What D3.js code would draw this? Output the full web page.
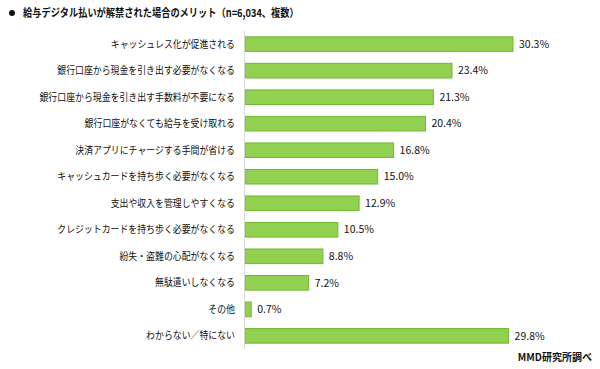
<!DOCTYPE html>
<html>
<head>
<meta charset="utf-8">
<script src="https://d3js.org/d3.v7.min.js"></script>
<style>
  body { margin: 0; background: #fff; }
  text { font-family: "Noto Sans CJK JP", sans-serif; fill: #111; }
</style>
</head>
<body>
<div id="chart"></div>
<script>
const categories = [
  "キャッシュレス化が促進される",
  "銀行口座から現金を引き出す必要がなくなる",
  "銀行口座から現金を引き出す手数料が不要になる",
  "銀行口座がなくても給与を受け取れる",
  "決済アプリにチャージする手間が省ける",
  "キャッシュカードを持ち歩く必要がなくなる",
  "支出や収入を管理しやすくなる",
  "クレジットカードを持ち歩く必要がなくなる",
  "紛失・盗難の心配がなくなる",
  "無駄遣いしなくなる",
  "その他",
  "わからない／特にない"
];
const values = [30.3, 23.4, 21.3, 20.4, 16.8, 15.0, 12.9, 10.5, 8.8, 7.2, 0.7, 29.8];
const title = "給与デジタル払いが解禁された場合のメリット（n=6,034、複数）";
const source = "MMD研究所調べ";

const W = 600, H = 369;
const svg = d3.select("#chart").append("svg")
  .attr("width", W).attr("height", H);

// title (narrow glyphs like the original UI font)
svg.append("circle").attr("cx", 12).attr("cy", 13).attr("r", 3).attr("fill", "#111");
svg.append("text")
  .attr("transform", "translate(23,17) scale(0.84,1)")
  .attr("font-size", 11).attr("font-weight", "bold")
  .text(title);

const x0 = 245;
const x = d3.scaleLinear().domain([0, 30.3]).range([x0, 513]);
const y = d3.scaleBand().domain(categories).range([31, 349]).paddingInner(0.45).paddingOuter(0.22);

svg.append("g").selectAll("rect")
  .data(values)
  .join("rect")
  .attr("x", x0)
  .attr("y", (d, i) => y(categories[i]))
  .attr("width", d => x(d) - x0)
  .attr("height", y.bandwidth())
  .attr("fill", "#92d050")
  .attr("stroke", "#70b830")
  .attr("stroke-width", 1);

// axis line
svg.append("line")
  .attr("x1", x0 - 0.5).attr("x2", x0 - 0.5)
  .attr("y1", 31).attr("y2", 349)
  .attr("stroke", "#d9d9d9").attr("stroke-width", 1);

// category labels
svg.append("g").selectAll("text")
  .data(categories)
  .join("text")
  .attr("transform", d => `translate(235,${y(d) + y.bandwidth() / 2}) scale(0.89,1)`)
  .attr("dy", "0.35em")
  .attr("text-anchor", "end")
  .attr("font-size", 10)
  .text(d => d);

// value labels
svg.append("g").selectAll("text")
  .data(values)
  .join("text")
  .attr("x", d => x(d) + 6)
  .attr("y", (d, i) => y(categories[i]) + y.bandwidth() / 2)
  .attr("dy", "0.35em")
  .attr("font-size", 10.5)
  .text(d => d.toFixed(1) + "%");

svg.append("text").attr("x", 592).attr("y", 361)
  .attr("text-anchor", "end")
  .attr("font-size", 10).attr("font-weight", "bold")
  .text(source);
</script>
</body>
</html>
